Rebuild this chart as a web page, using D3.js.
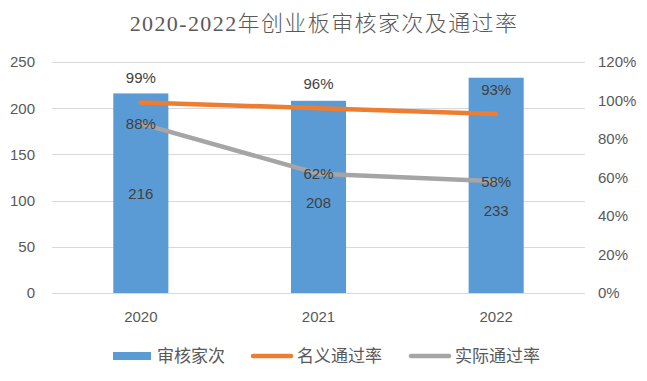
<!DOCTYPE html>
<html><head><meta charset="utf-8">
<script src="https://cdn.jsdelivr.net/npm/d3@7/dist/d3.min.js"></script>
<style>body{margin:0;background:#fff}</style>
</head><body>
<svg id="c" width="647" height="381"></svg>
<script>
const categories = ["2020", "2021", "2022"];
const reviews = [216, 208, 233];
const nominalRate = [0.99, 0.96, 0.93];
const actualRate = [0.88, 0.62, 0.58];
const leftTicks = [0, 50, 100, 150, 200, 250];
const rightTicks = [0, 0.2, 0.4, 0.6, 0.8, 1.0, 1.2];
const seriesNames = ["审核家次", "名义通过率", "实际通过率"];
const title = "2020-2022年创业板审核家次及通过率";

const svg = d3.select("#c");
const L = 52, R = 585, T = 62, B = 293;
const numFont = "'Liberation Sans', 'Noto Sans CJK SC', sans-serif";
const fs = 15;
const x = d3.scaleBand().domain(categories).range([L, R]).paddingInner(0.69).paddingOuter(0.345);
const y = d3.scaleLinear().domain([0, 250]).range([B, T]);
const y2 = d3.scaleLinear().domain([0, 1.2]).range([B, T]);

svg.append("text").attr("x", 324).attr("y", 31).attr("text-anchor", "middle")
  .attr("font-family", "'Liberation Serif', 'Noto Sans CJK SC', serif").attr("font-size", 22)
  .attr("font-weight", 300).attr("letter-spacing", 1.4)
  .attr("fill", "#595959").text(title);

// grid
svg.append("g").selectAll("line").data(leftTicks).join("line")
  .attr("x1", L).attr("x2", R).attr("y1", d => Math.round(y(d)) + 0.5).attr("y2", d => Math.round(y(d)) + 0.5)
  .attr("stroke", "#d9d9d9").attr("stroke-width", 1);

const ax = d3.axisLeft(y).tickValues(leftTicks).tickSize(0).tickPadding(17);
const gL = svg.append("g").attr("transform", `translate(${L},0)`).call(ax);
gL.select(".domain").remove();
gL.selectAll("text").attr("font-family", numFont).attr("font-size", fs).attr("fill", "#595959");

const ax2 = d3.axisRight(y2).tickValues(rightTicks).tickSize(0).tickPadding(13).tickFormat(d3.format(".0%"));
const gR = svg.append("g").attr("transform", `translate(${R},0)`).call(ax2);
gR.select(".domain").remove();
gR.selectAll("text").attr("font-family", numFont).attr("font-size", fs).attr("fill", "#595959");

const axB = d3.axisBottom(x).tickSize(0).tickPadding(18);
const gB = svg.append("g").attr("transform", `translate(0,${B})`).call(axB);
gB.select(".domain").remove();
gB.selectAll("text").attr("font-family", numFont).attr("font-size", fs).attr("fill", "#595959");

// bars
svg.append("g").selectAll("rect").data(reviews).join("rect")
  .attr("x", (d, i) => x(categories[i])).attr("width", x.bandwidth())
  .attr("y", d => y(d)).attr("height", d => B - y(d)).attr("fill", "#5B9BD5");

const cx = c => x(c) + x.bandwidth() / 2;
const line = d3.line().x((d, i) => cx(categories[i])).y(d => y2(d));
svg.append("path").datum(nominalRate).attr("d", line).attr("fill", "none")
  .attr("stroke", "#ED7D31").attr("stroke-width", 4.5).attr("stroke-linecap", "round");
svg.append("path").datum(actualRate).attr("d", line).attr("fill", "none")
  .attr("stroke", "#A5A5A5").attr("stroke-width", 4.5).attr("stroke-linecap", "round");

const lblColor = "#404040";
// bar labels (centered, nudged below the line label when they would collide)
svg.append("g").selectAll("text").data(reviews).join("text")
  .attr("x", (d, i) => cx(categories[i]))
  .attr("y", (d, i) => Math.max((y(d) + B) / 2, y2(actualRate[i]) + 29) + 5.5)
  .attr("text-anchor", "middle").attr("font-family", numFont).attr("font-size", fs)
  .attr("fill", lblColor).text(d => d);
// nominal labels above
svg.append("g").selectAll("text").data(nominalRate).join("text")
  .attr("x", (d, i) => cx(categories[i])).attr("y", d => y2(d) - 19)
  .attr("text-anchor", "middle").attr("font-family", numFont).attr("font-size", fs)
  .attr("fill", lblColor).text(d => Math.round(d * 100) + "%");
// actual labels centered
svg.append("g").selectAll("text").data(actualRate).join("text")
  .attr("x", (d, i) => cx(categories[i])).attr("y", d => y2(d) + 5.5)
  .attr("text-anchor", "middle").attr("font-family", numFont).attr("font-size", fs)
  .attr("fill", lblColor).text(d => Math.round(d * 100) + "%");

// legend
const lg = svg.append("g");
const legendX = [113, 251, 409];
const ly = 356;
lg.append("rect").attr("x", legendX[0]).attr("y", ly - 4).attr("width", 38).attr("height", 8).attr("fill", "#5B9BD5");
lg.append("line").attr("x1", legendX[1] + 2).attr("x2", legendX[1] + 40).attr("y1", ly).attr("y2", ly)
  .attr("stroke", "#ED7D31").attr("stroke-width", 4.5).attr("stroke-linecap", "round");
lg.append("line").attr("x1", legendX[2] + 2).attr("x2", legendX[2] + 40).attr("y1", ly).attr("y2", ly)
  .attr("stroke", "#A5A5A5").attr("stroke-width", 4.5).attr("stroke-linecap", "round");
lg.selectAll("text").data(seriesNames).join("text")
  .attr("x", (d, i) => legendX[i] + (i === 0 ? 44 : 46)).attr("y", ly + 6)
  .attr("font-family", "'Noto Sans CJK SC', sans-serif").attr("font-size", 17).attr("fill", "#595959").text(d => d);
</script>
</body></html>
